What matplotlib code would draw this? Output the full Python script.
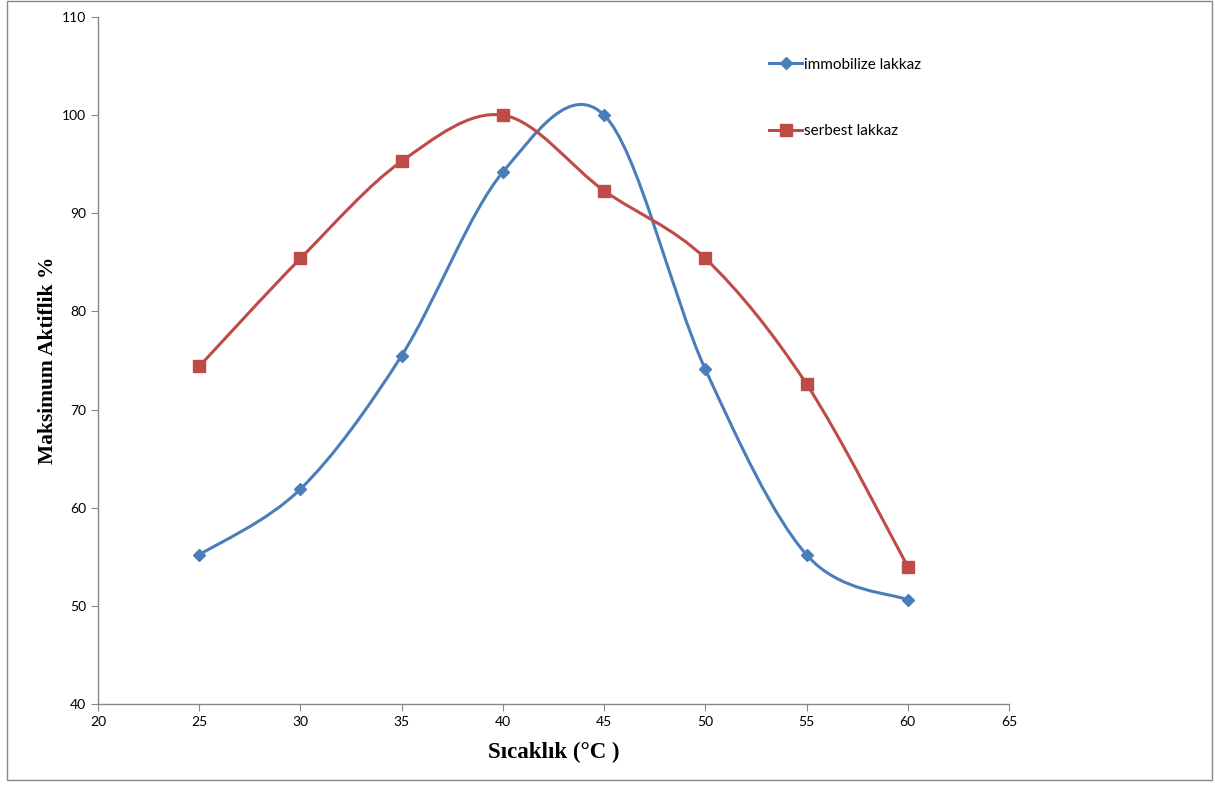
import matplotlib

matplotlib.use("Agg")
import matplotlib.pyplot as plt
from matplotlib.path import Path
from matplotlib.patches import PathPatch, Rectangle
from matplotlib.lines import Line2D
import numpy as np

temps = [25, 30, 35, 40, 45, 50, 55, 60]
immobilize = [55.2, 61.9, 75.5, 94.2, 100.0, 74.1, 55.2, 50.6]
serbest = [74.4, 85.4, 95.3, 100.0, 92.3, 85.4, 72.6, 54.0]

BLUE = "#4A7EBB"
RED = "#BE4B48"
TICK_FONT = "Lato"
LABEL_FONT = "Liberation Serif"


def smooth_path(x, y):
    # Excel-style smoothed line: cubic Bezier through the points (Catmull-Rom, tension 1/6)
    pts = np.column_stack([x, y]).astype(float)
    ext = np.vstack([pts[0], pts, pts[-1]])
    verts = [pts[0]]
    codes = [Path.MOVETO]
    for i in range(1, len(ext) - 2):
        p0, p1, p2, p3 = ext[i - 1], ext[i], ext[i + 1], ext[i + 2]
        verts += [p1 + (p2 - p0) / 6, p2 - (p3 - p1) / 6, p2]
        codes += [Path.CURVE4] * 3
    return Path(verts, codes)


fig = plt.figure(figsize=(12.15, 7.89), dpi=100)
ax = fig.add_axes([98 / 1215, 1 - 704 / 789, (1009 - 98) / 1215, (704 - 17) / 789])

for ys, color, marker, ms in [(immobilize, BLUE, "D", 6), (serbest, RED, "s", 8)]:
    ax.add_patch(PathPatch(smooth_path(temps, ys), facecolor="none", edgecolor=color, lw=2.2, zorder=2))
    ax.plot(temps, ys, linestyle="none", marker=marker, ms=ms, color=color, zorder=3)

ax.set_xlim(20, 65)
ax.set_ylim(40, 110)
ax.set_xticks(range(20, 66, 5))
ax.set_yticks(range(40, 111, 10))
for s in ["top", "right"]:
    ax.spines[s].set_visible(False)
for s in ["left", "bottom"]:
    ax.spines[s].set_color("#888888")
    ax.spines[s].set_linewidth(1.0)
ax.tick_params(direction="out", length=5, color="#888888", labelsize=10)
for lab in ax.get_xticklabels() + ax.get_yticklabels():
    lab.set_fontfamily(TICK_FONT)

ax.set_xlabel("Sıcaklık (°C )", fontfamily=LABEL_FONT, fontweight="bold", fontsize=16.5, labelpad=10)
ax.set_ylabel("Maksimum Aktiflik %", fontfamily=LABEL_FONT, fontweight="bold", fontsize=15.5, labelpad=3)

handles = [
    Line2D([], [], color=BLUE, lw=2.2, marker="D", ms=6),
    Line2D([], [], color=RED, lw=2.2, marker="s", ms=8),
]
fig.legend(handles, ["immobilize lakkaz", "serbest lakkaz"], loc="upper left",
           bbox_to_anchor=(755 / 1215, 1 - 44 / 789), frameon=False,
           prop={"family": TICK_FONT, "size": 11}, labelspacing=3.45,
           handlelength=2.2, handletextpad=0.1)

fig.patches.append(Rectangle((7 / 1215, 1 - 780 / 789), (1212 - 7) / 1215, 779 / 789,
                             transform=fig.transFigure, fill=False, edgecolor="#888888", lw=1.0))

fig.savefig("out.png", dpi=100)
